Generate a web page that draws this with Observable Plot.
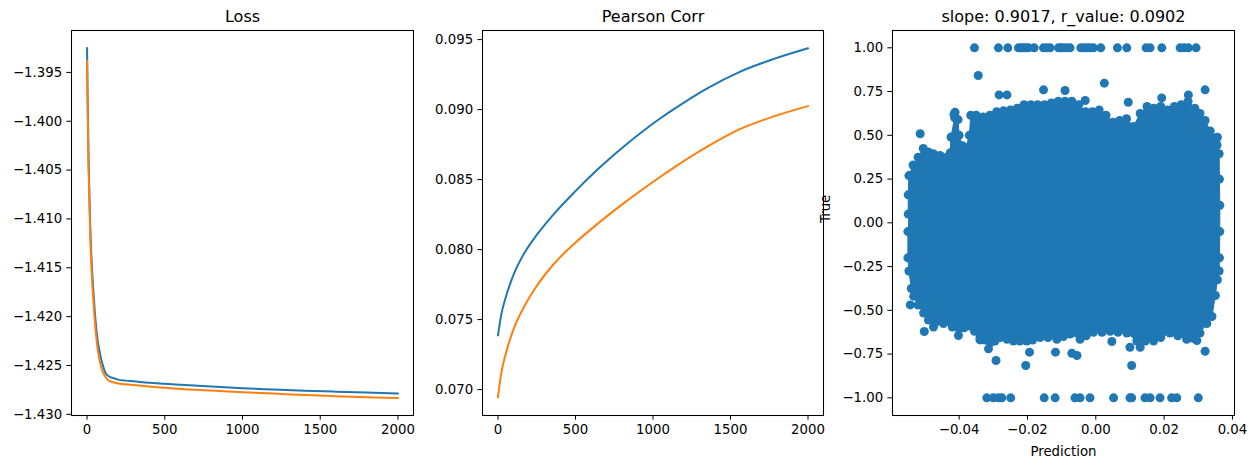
<!DOCTYPE html>
<html><head><meta charset="utf-8">
<script src="https://cdn.jsdelivr.net/npm/d3@7"></script>
<script src="https://cdn.jsdelivr.net/npm/@observablehq/plot@0.6"></script>
<style>
body{margin:0;background:#fff;}
#wrap{position:relative;width:1256px;height:468px;background:#fff;overflow:hidden;}
</style>
</head><body><div id="wrap"></div>
<script>
// ---------- data ----------
const lossX      = [0, 5, 10, 20, 30, 40, 50, 60, 70, 80, 90, 100, 120, 140, 170, 200, 250, 300, 400, 500, 600, 800, 1000, 1200, 1400, 1600, 1800, 2000];
const lossTrain  = [-1.3925, -1.3990, -1.4040, -1.4105, -1.4145, -1.4172, -1.4195, -1.4213, -1.4226, -1.4235, -1.4243, -1.4249, -1.4258, -1.4261, -1.42630, -1.42645, -1.42655, -1.42662, -1.42677, -1.42687, -1.42697, -1.42716, -1.42733, -1.42746, -1.42758, -1.42768, -1.42777, -1.42786];
const lossValid  = [-1.3938, -1.4000, -1.4050, -1.4115, -1.4155, -1.4182, -1.4205, -1.4222, -1.4235, -1.4244, -1.4251, -1.4256, -1.4262, -1.42655, -1.42672, -1.42685, -1.42693, -1.42700, -1.42716, -1.42729, -1.42741, -1.42757, -1.42774, -1.42788, -1.42803, -1.42814, -1.42824, -1.42833];

const corrX      = [0, 20, 50, 100, 170, 250, 360, 490, 640, 810, 920, 1050, 1130, 1350, 1560, 1780, 2000];
const corrTrain  = [0.07387, 0.07530, 0.07660, 0.07820, 0.07975, 0.08105, 0.08254, 0.08407, 0.08570, 0.08735, 0.08833, 0.08940, 0.09000, 0.09152, 0.09270, 0.09362, 0.09438];
const corrValid  = [0.06945, 0.07110, 0.07256, 0.07430, 0.07595, 0.07740, 0.07897, 0.08040, 0.08182, 0.08330, 0.08420, 0.08522, 0.08582, 0.08735, 0.08860, 0.08952, 0.09025];

// dense cloud outline (dot centres), top edge left->right then bottom edge right->left
const blobX = [-0.0549, -0.0549, -0.0547, -0.0535, -0.0520, -0.0505, -0.0490, -0.0475, -0.0456, -0.0436, -0.0426, -0.0424, -0.0413, -0.0403, -0.0400, -0.0390, -0.0380, -0.0370, -0.0366, -0.0350, -0.0330, -0.0310, -0.0290, -0.0270, -0.0250, -0.0230, -0.0210, -0.0190, -0.0170, -0.0150, -0.0130, -0.0110, -0.0090, -0.0070, -0.0050, -0.0030, -0.0010, 0.0010, 0.0030, 0.0050, 0.0070, 0.0090, 0.0110, 0.0130, 0.0150, 0.0170, 0.0190, 0.0210, 0.0230, 0.0250, 0.0270, 0.0290, 0.0305, 0.0320, 0.0335, 0.0345, 0.0355, 0.0361, 0.0362, 0.0363, 0.0363, 0.0362, 0.0361, 0.0356, 0.0350, 0.0340, 0.0325, 0.0305, 0.0285, 0.0266, 0.0240, 0.0217, 0.0190, 0.0169, 0.0145, 0.0120, 0.0091, 0.0065, 0.0042, 0.0018, -0.0007, -0.0028, -0.0046, -0.0075, -0.0095, -0.0114, -0.0140, -0.0163, -0.0185, -0.0202, -0.0222, -0.0241, -0.0260, -0.0280, -0.0295, -0.0309, -0.0325, -0.0339, -0.0355, -0.0368, -0.0385, -0.0400, -0.0420, -0.0446, -0.0475, -0.0490, -0.0504, -0.0520, -0.0533, -0.0540, -0.0547, -0.0550, -0.0550];
const blobY = [0.05, 0.16, 0.27, 0.33, 0.375, 0.425, 0.405, 0.395, 0.385, 0.375, 0.40, 0.49, 0.60, 0.59, 0.50, 0.44, 0.43, 0.50, 0.615, 0.615, 0.605, 0.615, 0.635, 0.64, 0.645, 0.655, 0.675, 0.675, 0.675, 0.675, 0.685, 0.695, 0.695, 0.695, 0.675, 0.635, 0.635, 0.645, 0.615, 0.575, 0.585, 0.595, 0.55, 0.625, 0.665, 0.655, 0.665, 0.645, 0.665, 0.675, 0.695, 0.655, 0.625, 0.585, 0.525, 0.485, 0.445, 0.395, 0.25, 0.10, -0.05, -0.20, -0.275, -0.325, -0.415, -0.535, -0.575, -0.63, -0.66, -0.665, -0.645, -0.63, -0.655, -0.675, -0.675, -0.675, -0.63, -0.625, -0.62, -0.625, -0.625, -0.645, -0.665, -0.635, -0.650, -0.665, -0.655, -0.655, -0.670, -0.675, -0.675, -0.675, -0.665, -0.655, -0.675, -0.685, -0.670, -0.655, -0.62, -0.59, -0.600, -0.605, -0.595, -0.575, -0.595, -0.555, -0.515, -0.470, -0.420, -0.375, -0.275, -0.20, -0.05];

// isolated points
const topOutX = [-0.03552, -0.02850, -0.02575, -0.02264, -0.02190, -0.02118, -0.02045, -0.01972, -0.01805, -0.01532, -0.01430, -0.01337, -0.01093, -0.01020, -0.00947, -0.00850, -0.00752, -0.00439, -0.00350, -0.00263, -0.00170, -0.00069, 0.00146, 0.00633, 0.00908, 0.01473, 0.01590, 0.01932, 0.02468, 0.02585, 0.02711, 0.02936];
const botOutX = [-0.0319, -0.0300, -0.0285, -0.0275, -0.0249, -0.0151, -0.0119, -0.0061, -0.0046, -0.0017, 0.0052, 0.0100, 0.0105, 0.0144, 0.0159, 0.0188, 0.0222, 0.0237, 0.0300];
const otherX  = [-0.0344, 0.0025, 0.0320, -0.0090, -0.0153, -0.0283, -0.0260, 0.0271, 0.0193, -0.0514, 0.0356, -0.0415, 0.0095, -0.0031, -0.0412, -0.0543, -0.0502, -0.0402, -0.0339, -0.0314, -0.0292, -0.0205, -0.0194, -0.0118, -0.0070, -0.0055, 0.0047, 0.0105, 0.0100, 0.0130, 0.0320, 0.0296];
const otherY  = [0.842, 0.798, 0.760, 0.756, 0.760, 0.731, 0.731, 0.731, 0.714, 0.509, 0.489, 0.619, 0.689, 0.699, 0.632, -0.469, -0.621, -0.644, -0.669, -0.720, -0.787, -0.815, -0.739, -0.739, -0.745, -0.758, -0.678, -0.815, -0.711, -0.711, -0.734, -0.673];

const stepTicks   = [0, 500, 1000, 1500, 2000];
const lossYTicks  = [-1.395, -1.400, -1.405, -1.410, -1.415, -1.420, -1.425, -1.430];
const corrYTicks  = [0.070, 0.075, 0.080, 0.085, 0.090, 0.095];
const predTicks   = [-0.04, -0.02, 0.00, 0.02, 0.04];
const trueTicks   = [1.00, 0.75, 0.50, 0.25, 0.00, -0.25, -0.50, -0.75, -1.00];

const titles = ["Loss", "Pearson Corr", "slope: 0.9017, r_value: 0.0902"];
const xLabel = "Prediction", yLabel = "True";

// ---------- drawing ----------
const W = 1256, H = 468;
const BLUE = "#1f77b4", ORANGE = "#ff7f0e";
const TICK = 4.67, PAD = 4.67;

function panel({L, R, T = 30, B = 415, x, y, marks}) {
  return Plot.plot({
    width: W, height: H,
    marginLeft: L, marginRight: W - R, marginTop: T, marginBottom: H - B,
    style: {position: "absolute", left: "0px", top: "0px", background: "transparent",
            fontFamily: "DejaVu Sans", fontSize: "13.3px", color: "black", maxWidth: "none", overflow: "visible"},
    x: {tickSize: TICK, tickPadding: PAD, label: null, ...x},
    y: {tickSize: TICK, tickPadding: PAD, label: null, ...y},
    marks: [...marks, Plot.frame({stroke: "black", strokeWidth: 1.05})]
  });
}
const title = (t) => Plot.text([t], {text: d => d, frameAnchor: "top", dy: -14, fontSize: 16, lineAnchor: "middle", fill: "black"});
const rows = (xs, ys) => xs.map((v, i) => ({x: v, y: ys[i]}));
const intFmt = d => String(d);

const wrap = document.getElementById("wrap");

wrap.appendChild(panel({
  L: 71, R: 413,
  x: {domain: [-100, 2100], ticks: stepTicks, tickFormat: intFmt},
  y: {domain: [-1.43012, -1.39071], ticks: lossYTicks, tickFormat: d3.format(".3f")},
  marks: [
    Plot.line(rows(lossX, lossTrain), {x: "x", y: "y", stroke: BLUE, strokeWidth: 2, curve: "monotone-x"}),
    Plot.line(rows(lossX, lossValid), {x: "x", y: "y", stroke: ORANGE, strokeWidth: 2, curve: "monotone-x"}),
    title(titles[0])
  ]
}));

wrap.appendChild(panel({
  L: 482, R: 823,
  x: {domain: [-100, 2100], ticks: stepTicks, tickFormat: intFmt},
  y: {domain: [0.06815, 0.09565], ticks: corrYTicks, tickFormat: d3.format(".3f")},
  marks: [
    Plot.line(rows(corrX, corrTrain), {x: "x", y: "y", stroke: BLUE, strokeWidth: 2, curve: "monotone-x"}),
    Plot.line(rows(corrX, corrValid), {x: "x", y: "y", stroke: ORANGE, strokeWidth: 2, curve: "monotone-x"}),
    title(titles[1])
  ]
}));

const topOut = topOutX.map(v => ({x: v, y: 1}));
const botOut = botOutX.map(v => ({x: v, y: -1}));
wrap.appendChild(panel({
  L: 892, R: 1234,
  x: {domain: [-0.0595, 0.0406], ticks: predTicks, tickFormat: d3.format(".2f")},
  y: {domain: [-1.101, 1.099], ticks: trueTicks, tickFormat: d3.format(".2f")},
  marks: [
    Plot.line(rows(blobX, blobY), {x: "x", y: "y", fill: BLUE, stroke: BLUE, strokeWidth: 1, curve: "linear"}),
    Plot.dot(rows(blobX, blobY), {x: "x", y: "y", r: 4.5, fill: BLUE, stroke: "none"}),
    Plot.dot(topOut, {x: "x", y: "y", r: 4.5, fill: BLUE, stroke: "none"}),
    Plot.dot(botOut, {x: "x", y: "y", r: 4.5, fill: BLUE, stroke: "none"}),
    Plot.dot(rows(otherX, otherY), {x: "x", y: "y", r: 4.5, fill: BLUE, stroke: "none"}),
    title(titles[2]),
    Plot.text([xLabel], {text: d => d, frameAnchor: "bottom", dy: 36.7, lineAnchor: "middle", fill: "black"}),
    Plot.text([yLabel], {text: d => d, frameAnchor: "left", dx: -67, rotate: -90, lineAnchor: "middle", fill: "black"})
  ]
}));
</script>
</body></html>
